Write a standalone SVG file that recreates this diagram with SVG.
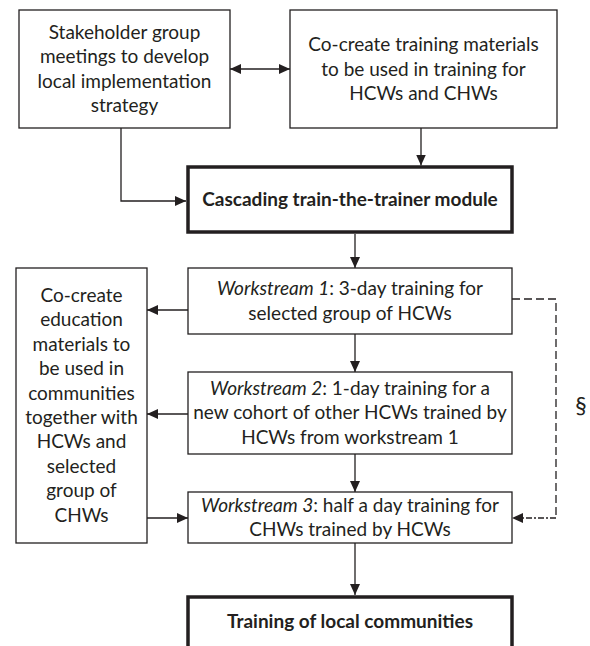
<svg xmlns="http://www.w3.org/2000/svg" width="590" height="646" viewBox="0 0 590 646">
<defs>
<style>
.box{fill:#fff;stroke:#231f20;stroke-width:1.3}
.bold{fill:#fff;stroke:#231f20;stroke-width:3.5}
.t{font-family:Lato,"Liberation Sans",sans-serif;font-size:19px;fill:#231f20;text-anchor:middle}
.b{font-weight:bold}
.i{font-style:italic}
.c{fill:none;stroke:#231f20;stroke-width:1.3}
.d{fill:none;stroke:#231f20;stroke-width:1.3;stroke-dasharray:8 4}
</style>
<marker id="ah" markerUnits="userSpaceOnUse" markerWidth="11" markerHeight="10" refX="11" refY="5" orient="auto-start-reverse">
<path d="M0,0 L11,5 L0,10 z" fill="#231f20"/>
</marker>
</defs>
<rect width="590" height="646" fill="#fff"/>
<g id="connectors">
<path class="c" d="M230,69 H290" marker-start="url(#ah)" marker-end="url(#ah)"/>
<path class="c" d="M421,128 V165.5" marker-end="url(#ah)"/>
<path class="c" d="M121,128 V201 H186" marker-end="url(#ah)"/>
<path class="c" d="M355,234 V268" marker-end="url(#ah)"/>
<path class="c" d="M188,310 H147" marker-end="url(#ah)"/>
<path class="c" d="M355,334 V372" marker-end="url(#ah)"/>
<path class="c" d="M188,414 H147" marker-end="url(#ah)"/>
<path class="c" d="M355,454 V492" marker-end="url(#ah)"/>
<path class="c" d="M147,518 H188" marker-end="url(#ah)"/>
<path class="c" d="M355,543 V595" marker-end="url(#ah)"/>
<path class="d" d="M512,299 H556 V518"/>
<path class="c" d="M556,518 H512" style="stroke-dasharray:6 2 2 2" marker-end="url(#ah)"/>
<text class="t" x="581" y="413.5" style="font-size:23px">§</text>
</g>
<g id="stakeholder">
<rect class="box" x="19" y="10" width="211" height="118"/>
<text class="t" x="124.5" y="39">Stakeholder group</text>
<text class="t" x="124.5" y="63.4">meetings to develop</text>
<text class="t" x="124.5" y="87.8">local implementation</text>
<text class="t" x="124.5" y="112.2">strategy</text>
</g>
<g id="cocreate-training">
<rect class="box" x="290" y="10" width="267" height="118"/>
<text class="t" x="423.5" y="51.2">Co-create training materials</text>
<text class="t" x="423.5" y="75.6">to be used in training for</text>
<text class="t" x="423.5" y="100">HCWs and CHWs</text>
</g>
<g id="cascading">
<rect class="bold" x="188" y="167" width="324" height="65"/>
<text class="t b" x="350" y="206">Cascading train-the-trainer module</text>
</g>
<g id="cocreate-education">
<rect class="box" x="16" y="268" width="131" height="275"/>
<text class="t" x="81.5" y="302">Co-create</text>
<text class="t" x="81.5" y="326.4">education</text>
<text class="t" x="81.5" y="350.8">materials to</text>
<text class="t" x="81.5" y="375.2">be used in</text>
<text class="t" x="81.5" y="399.6">communities</text>
<text class="t" x="81.5" y="424">together with</text>
<text class="t" x="81.5" y="448.4">HCWs and</text>
<text class="t" x="81.5" y="472.8">selected</text>
<text class="t" x="81.5" y="497.2">group of</text>
<text class="t" x="81.5" y="521.6">CHWs</text>
</g>
<g id="ws1">
<rect class="box" x="188" y="268" width="324" height="66"/>
<text class="t" x="350" y="295.3"><tspan class="i">Workstream 1</tspan>: 3-day training for</text>
<text class="t" x="350" y="319.7">selected group of HCWs</text>
</g>
<g id="ws2">
<rect class="box" x="188" y="372" width="324" height="82"/>
<text class="t" x="350" y="395"><tspan class="i">Workstream 2</tspan>: 1-day training for a</text>
<text class="t" x="350" y="419.4">new cohort of other HCWs trained by</text>
<text class="t" x="350" y="443.8">HCWs from workstream 1</text>
</g>
<g id="ws3">
<rect class="box" x="188" y="492" width="324" height="51"/>
<text class="t" x="350" y="511.8"><tspan class="i">Workstream 3</tspan>: half a day training for</text>
<text class="t" x="350" y="536.2">CHWs trained by HCWs</text>
</g>
<g id="local">
<rect class="bold" x="188" y="597" width="324" height="70"/>
<text class="t b" x="350" y="628">Training of local communities</text>
</g>
</svg>
